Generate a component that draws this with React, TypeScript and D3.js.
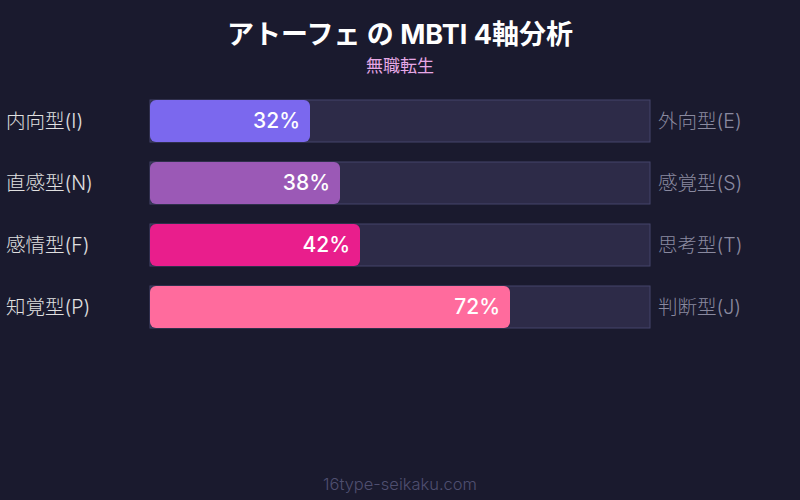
import React from "react";
import * as d3 from "d3";

const leftLabels = ["内向型(I)", "直感型(N)", "感情型(F)", "知覚型(P)"];
const rightLabels = ["外向型(E)", "感覚型(S)", "思考型(T)", "判断型(J)"];
const percents = [32, 38, 42, 72];
const colors = ["#7b68ee", "#9b59b6", "#e91e8c", "#ff6b9d"];

const W = 800;
const H = 500;
const FONT = "Inter, 'Noto Sans CJK JP', sans-serif";

export default function App() {
  const x = d3.scaleLinear().domain([0, 100]).range([150, 650]);
  const y = d3
    .scaleBand<number>()
    .domain(d3.range(percents.length))
    .range([100, 328])
    .paddingInner(20 / 62)
    .paddingOuter(0);

  return (
    <svg
      width={W}
      height={H}
      style={{ position: "absolute", left: 0, top: 0, display: "block", fontFamily: FONT }}
    >
      <rect width={W} height={H} fill="#1a1a2e" />
      <text x={400} y={44} textAnchor="middle" fill="#ffffff" fontSize={27} fontWeight="bold">
        アトーフェ の MBTI 4軸分析
      </text>
      <text x={400} y={72} textAnchor="middle" fill="#e6a8e6" fontSize={17}>
        無職転生
      </text>
      {percents.map((p, i) => {
        const y0 = y(i)!;
        const bh = y.bandwidth();
        return (
          <g key={i}>
            <rect
              x={x(0)}
              y={y0}
              width={x(100) - x(0)}
              height={bh}
              fill="#2d2b48"
              stroke="#45446a"
              strokeWidth={1}
            />
            <rect x={x(0)} y={y0} width={x(p) - x(0)} height={bh} rx={6} fill={colors[i]} />
            <text
              x={x(p) - 10}
              y={y0 + bh / 2}
              dy="0.35em"
              textAnchor="end"
              fill="#ffffff"
              fontSize={21}
              fontWeight={500}
            >
              {p}%
            </text>
            <text x={6} y={y0 + bh / 2} dy="0.35em" fill="#e0e0e0" fontSize={19.5} fontWeight={300}>
              {leftLabels[i]}
            </text>
            <text x={658} y={y0 + bh / 2} dy="0.35em" fill="#8a8aa0" fontSize={19.5} fontWeight={300}>
              {rightLabels[i]}
            </text>
          </g>
        );
      })}
      <text x={400} y={490} textAnchor="middle" fill="#4f4f70" fontSize={16.5} fontWeight={300}>
        16type-seikaku.com
      </text>
    </svg>
  );
}
